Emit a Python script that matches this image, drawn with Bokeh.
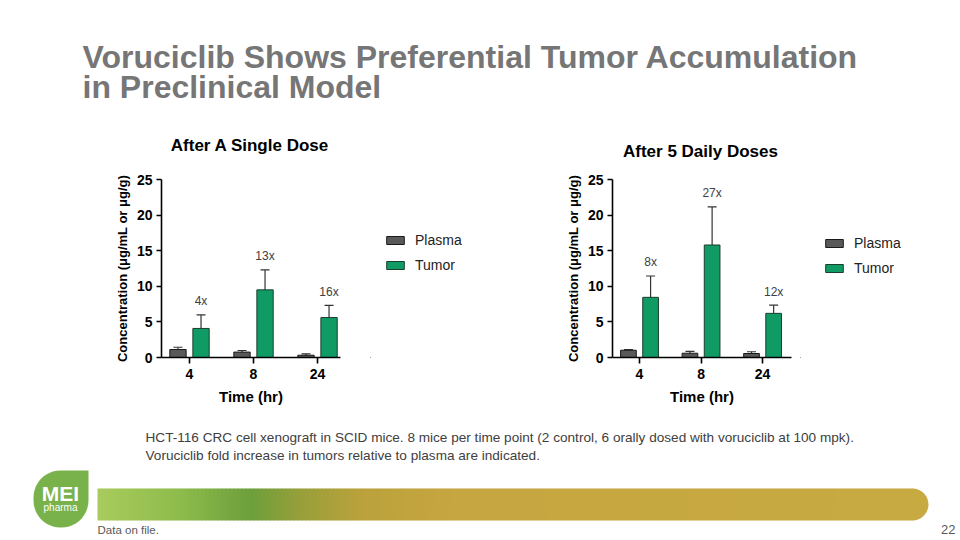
import numpy as np
from bokeh.plotting import figure
from bokeh.layouts import column, row
from bokeh.models import (Range1d, FixedTicker, Legend, LegendItem, Whisker,
                          TeeHead, ColumnDataSource)
from bokeh.core.properties import value
from bokeh.embed import file_html
from bokeh.resources import INLINE

# ---------------- data ----------------
times = ["4", "8", "24"]
series_names = ["Plasma", "Tumor"]
y_ticks = [0, 5, 10, 15, 20, 25]

single_plasma = [1.12, 0.76, 0.32]
single_plasma_err = [0.32, 0.22, 0.2]
single_tumor = [4.08, 9.5, 5.62]
single_tumor_err = [1.9, 2.8, 1.7]
single_fold = ["4x", "13x", "16x"]

daily_plasma = [1.02, 0.6, 0.56]
daily_plasma_err = [0.1, 0.25, 0.25]
daily_tumor = [8.45, 15.8, 6.2]
daily_tumor_err = [3.0, 5.35, 1.15]
daily_fold = ["8x", "27x", "12x"]

chart_titles = ["After A Single  Dose", "After 5 Daily Doses"]
title_lines = ["Voruciclib Shows Preferential Tumor Accumulation",
               "in Preclinical Model"]
footnote_lines = ["HCT-116 CRC cell xenograft in SCID mice. 8 mice per time point (2 control, 6 orally dosed with voruciclib at 100 mpk).",
                  "Voruciclib fold increase in tumors relative to plasma are indicated."]

FONT = "Liberation Sans"
PLASMA_COLOR = "#595959"
TUMOR_COLOR = "#0f9b63"
PLASMA_LINE = "#1a1a1a"
TUMOR_LINE = "#1d3d2f"
TOP_H = 160
ROW_H = 252


def blank(fig):
    fig.xaxis.visible = False
    fig.yaxis.visible = False
    fig.xgrid.visible = False
    fig.ygrid.visible = False
    fig.outline_line_color = None
    fig.background_fill_color = "white"
    fig.border_fill_color = "white"


def make_chart(plasma, perr, tumor, terr, folds, width, mbl, mbr, mbt, mbb, xs, xe):
    p = figure(width=width, height=ROW_H, x_range=Range1d(xs, xe), y_range=Range1d(0, 25),
               output_backend="svg", toolbar_location=None, title=None,
               min_border_left=mbl, min_border_right=mbr,
               min_border_top=mbt, min_border_bottom=mbb)
    p.xgrid.visible = False
    p.ygrid.visible = False
    p.outline_line_color = None

    idx = np.arange(len(times))
    xp = idx - 0.18
    xt = idx + 0.18
    src_p = ColumnDataSource(dict(x=xp, top=plasma, upper=np.array(plasma) + np.array(perr),
                                  lower=np.array(plasma) - np.array(perr)))
    src_t = ColumnDataSource(dict(x=xt, top=tumor, upper=np.array(tumor) + np.array(terr),
                                  lower=np.array(tumor) - np.array(terr),
                                  ly=np.array(tumor) + np.array(terr) + 1.9, lab=folds))
    bw = 0.255
    p.vbar(x="x", top="top", bottom=0, width=bw, source=src_p,
           fill_color=PLASMA_COLOR, line_color=PLASMA_LINE, line_width=1)
    p.vbar(x="x", top="top", bottom=0, width=bw, source=src_t,
           fill_color=TUMOR_COLOR, line_color=TUMOR_LINE, line_width=1)
    for s in (src_p, src_t):
        w = Whisker(source=s, base="x", upper="upper", lower="lower",
                    line_color="#333333", line_width=1.2,
                    upper_head=TeeHead(size=9, line_color="#333333", line_width=1.2),
                    lower_head=TeeHead(size=9, line_color="#333333", line_width=1.2))
        p.add_layout(w)
    p.text(x="x", y="ly", text="lab", source=src_t, text_align="center",
           text_baseline="middle", text_font=value(FONT), text_font_size="12px",
           text_color="#404040")

    p.yaxis.ticker = FixedTicker(ticks=y_ticks)
    p.xaxis.ticker = FixedTicker(ticks=list(idx))
    p.xaxis.major_label_overrides = {int(i): t for i, t in zip(idx, times)}
    for ax in (p.xaxis[0], p.yaxis[0]):
        ax.axis_line_width = 1.6
        ax.axis_line_color = "#000000"
        ax.major_tick_line_width = 1.6
        ax.major_tick_line_color = "#000000"
        ax.major_tick_in = 0
        ax.minor_tick_line_color = None
        ax.major_label_text_font = FONT
        ax.major_label_text_font_style = "bold"
        ax.major_label_text_font_size = "14px"
        ax.major_label_text_color = "#000000"
        ax.axis_label_text_font = FONT
        ax.axis_label_text_font_style = "bold"
        ax.axis_label_text_color = "#000000"
    p.xaxis.major_tick_out = 6
    p.yaxis.major_tick_out = 5
    p.xaxis.major_label_standoff = 5
    p.yaxis.major_label_standoff = 4
    p.xaxis.axis_label = "Time (hr)"
    p.xaxis.axis_label_text_font_size = "15px"
    p.xaxis.axis_label_standoff = 6
    p.yaxis.axis_label = "Concentration (μg/mL or μg/g)"
    p.yaxis.axis_label_text_font_size = "13px"
    p.yaxis.axis_label_standoff = 4
    return p


def make_legend(width, loc):
    f = figure(width=width, height=ROW_H, x_range=Range1d(0, 1), y_range=Range1d(0, 1),
               output_backend="svg", toolbar_location=None, min_border=0, title=None)
    blank(f)
    r1 = f.vbar(x=[-5], top=[0], width=0.1, fill_color=PLASMA_COLOR, line_color=PLASMA_LINE)
    r2 = f.vbar(x=[-5], top=[0], width=0.1, fill_color=TUMOR_COLOR, line_color=TUMOR_LINE)
    lg = Legend(items=[LegendItem(label=series_names[0], renderers=[r1]),
                       LegendItem(label=series_names[1], renderers=[r2])],
                location=loc, glyph_width=22, glyph_height=10,
                label_height=20, label_standoff=9, spacing=5, padding=0, margin=0,
                border_line_color=None, background_fill_alpha=0,
                label_text_font=FONT, label_text_font_size="14px",
                label_text_color="#222222")
    f.add_layout(lg)
    return f


left = make_chart(single_plasma, single_plasma_err, single_tumor, single_tumor_err,
                  single_fold, 370, 161, 30, 13, 55, -0.4375, 2.359)
left_leg = make_legend(110, (14, 82))
right = make_chart(daily_plasma, daily_plasma_err, daily_tumor, daily_tumor_err,
                   daily_fold, 320, 132, 9, 19, 55, -0.439, 2.47)
right_leg = make_legend(160, (23, 79))

# ---------------- top (slide title + chart titles) ----------------
top = figure(width=960, height=TOP_H, x_range=Range1d(0, 960), y_range=Range1d(TOP_H, 0),
             output_backend="svg", toolbar_location=None, min_border=0, title=None)
blank(top)
top.text(x=[82, 82], y=[56, 86], text=title_lines, text_font=value(FONT),
         text_font_style="bold", text_font_size="32px", text_color="#767676",
         text_baseline="middle", text_align="left")
top.text(x=[252, 700], y=[145, 151], text=chart_titles, text_font=value(FONT),
         text_font_style="bold", text_font_size="17px", text_color="#000000",
         text_baseline="middle", text_align="center")

# ---------------- bottom (footnote + footer) ----------------
bot = figure(width=960, height=128, x_range=Range1d(0, 960), y_range=Range1d(540, 412),
             output_backend="svg", toolbar_location=None, min_border=0, title=None)
blank(bot)
bot.text(x=[145, 145], y=[437, 455], text=footnote_lines, text_font=value(FONT),
         text_font_size="13.6px", text_color="#404040", text_baseline="middle",
         text_align="left")

# decorative gradient band
stops_x = [97, 180, 250, 300, 360, 450, 928]
stops_c = ["#a9cc5e", "#8ebc4c", "#6d9f3c", "#98a03a", "#bba23c", "#c6a640", "#c8ab42"]
stops_rgb = np.array([[int(c[i:i + 2], 16) for i in (1, 3, 5)] for c in stops_c])
edges = np.arange(97, 913, 4)
mids = edges + 2
cols = []
for m in mids:
    r, g, b = (np.interp(m, stops_x, stops_rgb[:, k]) for k in range(3))
    cols.append("#%02x%02x%02x" % (int(r), int(g), int(b)))
bot.quad(left=edges, right=np.minimum(edges + 4.6, 912.5), top=488, bottom=520,
         fill_color=cols, line_color=None)
bot.wedge(x=912, y=504, radius=16, start_angle=-np.pi / 2, end_angle=np.pi / 2,
          direction="anticlock", fill_color=cols[-1], line_color=None)

# logo leaf
r = 27
cx0, cx1, cy0, cy1 = 33 + r, 88 - r, 470 + r, 527 - r
pts = []
for a in np.linspace(np.pi, 1.5 * np.pi, 12):
    pts.append((cx0 + r * np.cos(a), cy0 + r * np.sin(a)))
pts.append((88, 470))
for a in np.linspace(0, 0.5 * np.pi, 12):
    pts.append((cx1 + r * np.cos(a), cy1 + r * np.sin(a)))
for a in np.linspace(0.5 * np.pi, np.pi, 12):
    pts.append((cx0 + r * np.cos(a), cy1 + r * np.sin(a)))
bot.patch([q[0] for q in pts], [q[1] for q in pts], fill_color="#79b24a", line_color=None)
bot.text(x=[60], y=[493], text=["MEI"], text_font=value(FONT), text_font_style="bold",
         text_font_size="21px", text_color="white", text_align="center",
         text_baseline="middle")
bot.text(x=[60], y=[507], text=["pharma"], text_font=value(FONT),
         text_font_size="10px", text_color="white", text_align="center",
         text_baseline="middle")

bot.text(x=[97], y=[529], text=["Data on file."], text_font=value(FONT),
         text_font_size="11.5px", text_color="#595959", text_baseline="middle",
         text_align="left")
bot.text(x=[955], y=[529], text=["22"], text_font=value(FONT),
         text_font_size="13px", text_color="#595959", text_baseline="middle",
         text_align="right")

layout = column(top, row(left, left_leg, right, right_leg, spacing=0), bot, spacing=0)
open("out.html", "w").write(file_html(layout, INLINE))
